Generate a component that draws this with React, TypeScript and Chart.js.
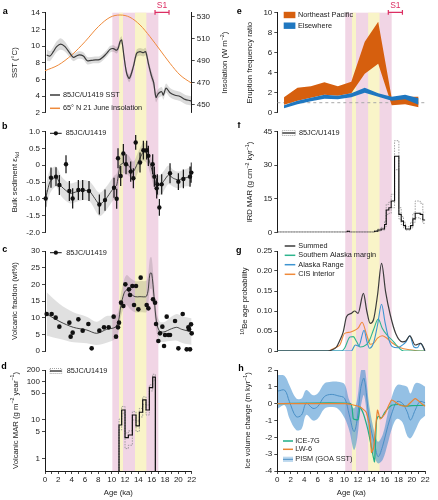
import React, { useEffect, useRef } from 'react';
import { Chart, registerables } from 'chart.js';

Chart.register(...registerables);

const FONT = '"Liberation Sans", Arial, Helvetica, sans-serif';
Chart.defaults.font.family = FONT;
Chart.defaults.font.size = 8;
Chart.defaults.color = '#222';

const PINK = '#f1d5e5';
const YELLOW = '#f9f4c8';
const S1_COLOR = '#dc2f63';
const AXIS = '#1a1a1a';

// ---------------- shared ----------------
const pinkBand = [10.1, 17.0];
const yellowBands = [[11.1, 11.7], [13.5, 15.2]];
const s1Range = [16.5, 18.6];
const ageTicks = [0, 1, 2, 3, 4, 5, 6, 7, 8, 9, 10, 11, 12, 13, 14, 15, 16, 17, 18, 19, 20, 21, 22];

// ---------------- a ----------------
const insolationAge = [0, 2, 4, 6, 8, 9.75, 11.25, 12.75, 14.25, 15.75, 17.25, 18.75, 20.25, 22];
const insolationVal = [480.7, 485.9, 495, 507.2, 520.9, 529.4, 531.5, 529.4, 522.4, 511.7, 499.6, 487.4, 476.8, 469.2];
const sstAge = [0.25, 0.75, 1.25, 1.75, 2.35, 3.0, 3.75, 4.25, 5.0, 5.75, 6.35, 7.25, 8.25, 9.25, 9.75, 10.25, 10.75, 11.0, 11.25, 11.5, 11.85, 12.25, 12.65, 13.25, 13.75, 14.25, 14.75, 15.1, 15.5, 16.0, 16.3, 16.65, 17.0, 17.5, 17.75, 18.15, 18.75, 19.5, 20.25, 21.0, 21.75, 22.0];
const sstVal = [8.92, 8.8, 9.32, 9.92, 10.24, 9.92, 9.12, 8.64, 8.92, 8.8, 8.24, 8.32, 8.4, 9.12, 9.6, 9.7, 9.5, 9.8, 10.52, 10.72, 8.72, 6.72, 6.12, 7.52, 9.12, 9.32, 9.2, 9.32, 7.92, 6.32, 5.6, 3.84, 4.3, 4.52, 4.12, 4.95, 4.4, 4.1, 3.95, 3.6, 3.45, 3.4];
const sstErr = [0.7, 0.6, 0.6, 0.65, 0.7, 0.6, 0.5, 0.45, 0.45, 0.45, 0.45, 0.4, 0.4, 0.4, 0.4, 0.4, 0.4, 0.4, 0.45, 0.45, 0.45, 0.45, 0.45, 0.45, 0.45, 0.45, 0.45, 0.45, 0.5, 0.55, 0.6, 0.6, 0.55, 0.55, 0.55, 0.55, 0.55, 0.55, 0.55, 0.55, 0.55, 0.55];
const aTicksLeft = [2, 4, 6, 8, 10, 12, 14];
const aTicksRight = [450, 470, 490, 510, 530];

// ---------------- b ----------------
const bAge = [0.1, 0.9, 1.65, 2.15, 3.15, 3.65, 4.15, 5.0, 5.65, 6.6, 8.15, 9.0, 10.35, 10.75, 10.95, 11.35, 11.75, 12.15, 12.85, 13.25, 13.6, 14.25, 14.75, 15.25, 15.5, 16.15, 16.4, 16.75, 16.85, 17.15, 17.5, 18.75, 20.0, 20.75, 21.75, 21.95];
const bVal = [-0.99, -0.37, -0.34, -0.59, 0.03, -0.77, -0.99, -0.74, -0.74, -0.77, -1.17, -1.04, -0.67, -1.0, 0.21, -0.32, 0.35, 0.03, -0.19, -0.39, 0.68, 0.08, 0.45, 0.45, 0.28, 0.03, -0.34, -0.69, -0.57, -1.26, -0.57, -0.24, -0.49, -0.41, -0.34, -0.22];
const bErr = [0.25, 0.3, 0.28, 0.3, 0.27, 0.3, 0.3, 0.3, 0.3, 0.3, 0.3, 0.32, 0.3, 0.3, 0.3, 0.3, 0.28, 0.3, 0.3, 0.3, 0.22, 0.3, 0.28, 0.28, 0.3, 0.3, 0.3, 0.3, 0.3, 0.25, 0.3, 0.3, 0.25, 0.28, 0.3, 0.3];
const bLineAge = [0.1, 0.75, 1.65, 2.5, 3.75, 4.75, 5.75, 6.75, 8.15, 9.0, 10.25, 10.75, 11.25, 11.75, 12.5, 13.25, 14.0, 14.75, 15.25, 15.75, 16.25, 16.75, 17.25, 17.75, 18.5, 19.25, 20.0, 20.75, 21.75, 22];
const bLineVal = [-0.99, -0.49, -0.34, -0.64, -0.84, -0.79, -0.74, -0.79, -1.17, -1.04, -0.69, -0.6, 0.0, 0.06, 0.0, -0.19, 0.11, 0.4, 0.35, 0.06, -0.29, -0.59, -0.59, -0.49, -0.29, -0.39, -0.44, -0.39, -0.34, -0.29];
const bLineErr = [0.35, 0.35, 0.3, 0.3, 0.3, 0.3, 0.3, 0.3, 0.35, 0.35, 0.35, 0.35, 0.32, 0.3, 0.3, 0.3, 0.3, 0.28, 0.28, 0.3, 0.3, 0.3, 0.3, 0.3, 0.28, 0.25, 0.25, 0.25, 0.28, 0.3];
const bTicks = [-2, -1.5, -1, -0.5, 0, 0.5, 1];

// ---------------- c ----------------
const cAge = [0.25, 1.0, 1.6, 2.15, 3.65, 3.85, 4.15, 5.0, 5.65, 6.5, 7.0, 8.15, 8.85, 9.55, 10.3, 10.65, 10.95, 11.1, 11.4, 11.75, 12.05, 12.6, 12.75, 13.1, 13.35, 13.65, 14.0, 14.35, 15.25, 15.5, 15.85, 16.2, 16.5, 16.65, 17.0, 17.25, 17.6, 17.85, 18.0, 18.25, 18.5, 18.75, 19.5, 20.0, 20.65, 21.25, 21.5, 21.6, 21.75, 21.9, 22.0];
const cVal = [11.1, 11.1, 10.0, 7.3, 8.5, 4.3, 5.5, 9.5, 6.1, 8.1, 0.8, 6.1, 7.1, 7.1, 10.3, 4.3, 7.1, 8.5, 14.5, 13.5, 20.0, 18.5, 16.8, 19.5, 13.8, 19.5, 12.5, 22.0, 13.8, 12.8, 32.1, 15.5, 14.5, 8.1, 3.0, 5.3, 7.3, 1.5, 4.8, 10.3, 4.8, 4.8, 9.0, 0.8, 11.1, 0.5, 7.1, 6.5, 0.5, 8.0, 5.3];
const cLineAge = [0.25, 2.25, 4.25, 6.25, 7.75, 9.25, 10.5, 11.0, 11.35, 11.85, 12.25, 12.75, 13.5, 14.25, 15.25, 15.75, 16.0, 16.35, 16.75, 17.25, 18.0, 18.75, 19.75, 20.5, 21.5, 22];
const cLineVal = [11.1, 8.8, 7.1, 6.3, 5.3, 6.5, 7.1, 8.8, 13.3, 17.3, 18.3, 17.3, 16.3, 16.3, 16.5, 23.3, 23.3, 16.3, 8.3, 5.8, 5.8, 6.5, 7.1, 6.5, 6.0, 5.8];
const cLineErr = [6.5, 5.2, 4.5, 4, 3.5, 4, 3.5, 3, 3.5, 4, 4.5, 4.7, 4.7, 4.7, 4.7, 4.7, 4.7, 4, 3, 3, 3, 3.5, 4, 4, 4, 4];
const cTicks = [0, 5, 10, 15, 20, 25, 30];

// ---------------- d ----------------
const dAge = [11.0, 11.1, 11.5, 12.0, 12.5, 13.1, 13.65, 14.15, 14.65, 15.15, 15.65, 16.15, 16.55];
const dVal = [0.3, 7.4, 18.2, 3.46, 4.06, 13.5, 7.0, 15.9, 33.2, 18.2, 69.7, 130, 0.3];
const dHi = [0.3, 10.5, 22.5, 4.6, 5.2, 16.5, 9.4, 20, 40, 24.5, 82, 155, 0.3];
const dLo = [0.3, 5.5, 15, 1.8, 2.2, 10, 5, 12, 25, 13.5, 57, 110, 0.3];
const dTicks = [1, 5, 10, 50, 100, 200];

// ---------------- e ----------------
const eAge = [1, 3, 5, 7, 9, 11, 13, 15, 17, 19, 21];
const nePacTop = [1.55, 2.5, 2.65, 3.05, 2.65, 3.1, 7.1, 9.1, 1.5, 1.6, 1.6];
const nePacBot = [0.8, 1.2, 1.5, 1.8, 1.7, 1.95, 3.9, 4.9, 0.75, 0.85, 0.55];
const elseTop = [0.75, 1.2, 1.5, 1.8, 1.7, 1.95, 2.5, 1.95, 1.6, 1.8, 1.45];
const elseBot = [0.45, 0.85, 1.15, 1.4, 1.35, 1.55, 2.0, 1.6, 1.2, 1.35, 0.8];
const eRefRatio = 1;
const eTicks = [0, 2, 4, 6, 8, 10];

// ---------------- f ----------------
const fAge = [0, 10.4, 10.7, 14.46, 14.95, 15.45, 15.94, 16.19, 16.58, 16.93, 17.43, 18.07, 18.42, 18.76, 19.06, 19.8, 20.15, 20.5, 21.24, 21.63, 22];
const fVal = [0, 0.5, 0, 0.5, 1, 1.5, 3.5, 10, 11, 14, 34, 8, 5, 3, 1.5, 3, 6, 8.5, 8, 5.5, 5.5];
const fHi = [0, 0.5, 0, 0.8, 1.5, 2.2, 5, 12.5, 13.5, 17, 41, 11, 7, 4.5, 2.5, 4.5, 8.5, 14, 13, 9, 9];
const fLo = [0, 0.5, 0, 0.3, 0.6, 1, 2.5, 8, 8.5, 11, 28, 6, 3.5, 2, 1, 2, 4.5, 6.5, 6, 4, 4];
const fTicks = [0, 15, 30, 45];

// ---------------- g ----------------
const sumAge = [0, 7.5, 8.0, 8.8, 9.25, 9.8, 10.3, 11.0, 11.5, 12.0, 12.8, 13.3, 13.8, 14.3, 14.9, 15.5, 16.1, 16.8, 17.6, 18.6, 19.1, 19.7, 20.5, 21.3, 22];
const sumVal = [0, 0, 0.002, 0.01, 0.025, 0.048, 0.086, 0.094, 0.1, 0.094, 0.144, 0.1, 0.069, 0.078, 0.14, 0.219, 0.148, 0.09, 0.044, 0.023, 0.025, 0.038, 0.015, 0.019, 0];
const samAge = [0, 9.5, 10.0, 10.8, 11.3, 11.8, 12.3, 12.8, 13.6, 14.3, 15.0, 15.6, 16.3, 17.3, 18.1, 18.8, 22];
const samVal = [0, 0, 0.007, 0.035, 0.036, 0.023, 0.01, 0.011, 0.023, 0.053, 0.08, 0.057, 0.04, 0.023, 0.007, 0, 0];
const arAge = [0, 11.0, 11.6, 12.1, 12.9, 13.3, 13.7, 14.3, 14.9, 15.5, 16.0, 16.6, 17.1, 17.9, 18.6, 19.1, 19.7, 20.3, 20.8, 21.3, 21.9, 22];
const arVal = [0, 0, 0.015, 0.012, 0.052, 0.025, 0.007, 0.02, 0.065, 0.117, 0.073, 0.028, 0.011, 0.008, 0.015, 0.022, 0.038, 0.01, 0.008, 0.019, 0.002, 0];
const cisAge = [0, 7.5, 8.0, 8.8, 9.3, 10.0, 10.8, 11.3, 12.0, 12.6, 13.3, 13.8, 14.3, 14.9, 15.6, 16.3, 17.1, 18.3, 19.8, 21.3, 22];
const cisVal = [0, 0, 0.003, 0.01, 0.015, 0.044, 0.047, 0.05, 0.057, 0.072, 0.04, 0.017, 0.019, 0.032, 0.038, 0.032, 0.02, 0.008, 0.003, 0, 0];
const gTicks = [0, 0.05, 0.1, 0.15, 0.2, 0.25];

// ---------------- h ----------------
const pismAge = [0.1, 1.1, 1.8, 2.8, 3.6, 4.3, 5.3, 6.0, 7.0, 8.0, 9.0, 10.0, 10.7, 11.4, 11.9, 12.4, 12.9, 13.7, 14.5, 15.0, 15.7, 16.4, 17.1, 17.8, 18.6, 19.3, 19.8, 20.5, 21.2, 22];
const pismMean = [0.75, 0.8, 0.12, -0.77, -0.67, 0.02, -0.28, -0.18, 0.42, 0.55, 0.47, 0.32, -0.67, -1.66, -0.87, 0.91, 1.5, -1.07, -2.46, -3.15, -2.46, -1.37, -0.48, 0.12, 0.02, -0.48, -0.97, -0.38, 0.12, 0.05];
const pismHi = [1.7, 1.65, 1.1, 0.32, 0.3, 0.81, 0.5, 0.6, 1.2, 1.3, 1.3, 1.15, 0.2, -0.28, 0.3, 1.9, 2.3, -0.2, -1.8, -2.26, -1.8, -0.6, 0.5, 1.1, 1.1, 1.0, 0.6, 1.2, 1.2, 1.0];
const pismLo = [-0.28, -0.1, -0.87, -1.56, -1.5, -0.67, -1.0, -0.9, -0.3, -0.2, -0.3, -0.85, -1.6, -2.75, -2.0, -0.2, 0.5, -2.0, -3.2, -3.55, -3.3, -2.4, -1.4, -0.9, -1.1, -1.9, -2.06, -1.6, -1.0, -0.7];
const iceAge = [0, 10.9, 11.3, 12.0, 12.3, 12.8, 13.5, 14.0, 14.45, 14.75, 15.0, 15.5, 16.0, 17.0, 18.0, 19.0, 20.0, 22];
const iceVal = [0, 0, -0.9, -0.95, -0.2, -0.6, -1.6, -2.6, -3.45, -1.0, -0.75, -0.85, -0.5, -0.1, -0.05, -0.15, -0.12, -0.1];
const lwAge = [0, 10.0, 11.0, 12.3, 13.2, 13.7, 14.0, 14.3, 14.6, 14.9, 15.3, 16.0, 17.0, 18.2, 19.2, 20.5, 21.7, 22];
const lwVal = [0, 0, -0.05, -0.2, -0.5, -1.3, -2.9, -2.65, -1.5, -0.38, -0.91, -0.6, 0.22, -0.08, -0.15, 0.3, -0.08, -0.15];
const hTicks = [-4, -3, -2, -1, 0, 1, 2];

// ---------------- colours ----------------
const C_SST = '#3a3a3a';
const C_INS = '#ee8a3b';
const C_NEP = '#d65f0e';
const C_ELSE = '#1f77c0';
const C_SUM = '#3b3b3b';
const C_SAM = '#2eb58e';
const C_AR = '#3d94d1';
const C_CIS = '#ef8a3a';
const C_ICE = '#1fae86';
const C_LW = '#ea8434';
const C_PISM = '#4a8fc5';
const C_PISM_BAND = 'rgba(60,140,205,0.55)';

// ---------------- helpers ----------------
type Slot = { left: number; top: number; width: number; height: number };
type Plot = { left: number; right: number; top: number; bottom: number };
type Seg = { t: string; sup?: boolean; sub?: boolean };
type LegendItem = { kind: 'line' | 'marker' | 'box' | 'dashbox' | 'band'; color: string; fill?: string; label: string; x: number; y: number; w: number; gap?: number };
type PanelCfg = {
  slot: Slot;
  plot: Plot;
  letter: { t: string; x: number; y: number };
  titles: { x: number; segs: Seg[] }[];
  legend: LegendItem[];
  bandTop: 'area' | 'canvas';
  bandBottom: 'area' | 'canvas';
  s1?: boolean;
};

const mkPts = (xs: number[], ys: number[]) => xs.map((x, i) => ({ x, y: ys[i] }));
const mkShift = (xs: number[], ys: number[], es: number[], s: number) => xs.map((x, i) => ({ x, y: ys[i] + s * es[i] }));

function drawVTitle(ctx: CanvasRenderingContext2D, cx: number, cy: number, segs: Seg[], size: number) {
  ctx.save();
  ctx.translate(cx, cy);
  ctx.rotate(-Math.PI / 2);
  ctx.fillStyle = '#222';
  ctx.textBaseline = 'middle';
  ctx.textAlign = 'left';
  const fontFor = (s: Seg) => `${s.sup || s.sub ? size * 0.68 : size}px ${FONT}`;
  let total = 0;
  const widths = segs.map((s) => {
    ctx.font = fontFor(s);
    const w = ctx.measureText(s.t).width;
    total += w;
    return w;
  });
  let x = -total / 2;
  segs.forEach((s, i) => {
    ctx.font = fontFor(s);
    const dy = s.sup ? -size * 0.33 : s.sub ? size * 0.3 : 0;
    ctx.fillText(s.t, x, dy);
    x += widths[i];
  });
  ctx.restore();
}

function drawLegendItem(ctx: CanvasRenderingContext2D, it: LegendItem, ox: number, oy: number) {
  const x = it.x - ox;
  const y = it.y - oy;
  const w = it.w;
  ctx.save();
  const hline = (color: string, lw: number) => {
    ctx.strokeStyle = color;
    ctx.lineWidth = lw;
    ctx.beginPath();
    ctx.moveTo(x, y);
    ctx.lineTo(x + w, y);
    ctx.stroke();
  };
  if (it.kind === 'line') {
    hline(it.color, 1.5);
  } else if (it.kind === 'marker') {
    hline(it.color, 1);
    ctx.fillStyle = it.color;
    ctx.beginPath();
    ctx.arc(x + w / 2, y, 2.1, 0, Math.PI * 2);
    ctx.fill();
  } else if (it.kind === 'box') {
    ctx.fillStyle = it.color;
    ctx.fillRect(x, y - 3.2, w, 6.4);
  } else if (it.kind === 'dashbox') {
    ctx.strokeStyle = '#8a8a8a';
    ctx.lineWidth = 0.8;
    ctx.setLineDash([1, 1]);
    ctx.strokeRect(x, y - 2.5, w, 5);
    ctx.setLineDash([]);
    hline(it.color, 1.2);
  } else if (it.kind === 'band') {
    ctx.fillStyle = it.fill || it.color;
    ctx.fillRect(x, y - 2.6, w, 5.2);
    hline(it.color, 1);
  }
  ctx.fillStyle = '#222';
  ctx.font = `7.3px ${FONT}`;
  ctx.textAlign = 'left';
  ctx.textBaseline = 'middle';
  ctx.fillText(it.label, x + w + (it.gap ?? 3), y);
  ctx.restore();
}

function panelPlugin(cfg: PanelCfg) {
  return {
    id: 'panel_' + cfg.letter.t,
    beforeDraw(chart: any) {
      const ctx: CanvasRenderingContext2D = chart.ctx;
      const xs = chart.scales.x;
      const ca = chart.chartArea;
      const top = cfg.bandTop === 'area' ? ca.top : 0;
      const bottom = cfg.bandBottom === 'area' ? ca.bottom : chart.height;
      const px = (v: number) => xs.getPixelForValue(v);
      ctx.save();
      ctx.fillStyle = PINK;
      ctx.fillRect(px(pinkBand[0]), top, px(pinkBand[1]) - px(pinkBand[0]), bottom - top);
      ctx.fillStyle = YELLOW;
      yellowBands.forEach(([a, b]) => ctx.fillRect(px(a), top, px(b) - px(a), bottom - top));
      ctx.restore();
    },
    afterDraw(chart: any) {
      const ctx: CanvasRenderingContext2D = chart.ctx;
      const ox = cfg.slot.left;
      const oy = cfg.slot.top;
      const ca = chart.chartArea;
      ctx.save();
      ctx.fillStyle = '#000';
      ctx.font = `bold 9px ${FONT}`;
      ctx.textAlign = 'center';
      ctx.textBaseline = 'middle';
      ctx.fillText(cfg.letter.t, cfg.letter.x - ox, cfg.letter.y - oy);
      cfg.titles.forEach((tt) => drawVTitle(ctx, tt.x - ox, (ca.top + ca.bottom) / 2, tt.segs, 7.7));
      cfg.legend.forEach((it) => drawLegendItem(ctx, it, ox, oy));
      if (cfg.s1) {
        const xs = chart.scales.x;
        const x1 = xs.getPixelForValue(s1Range[0]);
        const x2 = xs.getPixelForValue(s1Range[1]);
        const yb = 12.4 - oy;
        ctx.strokeStyle = S1_COLOR;
        ctx.lineWidth = 1.2;
        ctx.beginPath();
        ctx.moveTo(x1, yb);
        ctx.lineTo(x2, yb);
        ctx.moveTo(x1, yb - 2.3);
        ctx.lineTo(x1, yb + 2.3);
        ctx.moveTo(x2, yb - 2.3);
        ctx.lineTo(x2, yb + 2.3);
        ctx.stroke();
        ctx.fillStyle = S1_COLOR;
        ctx.font = `8.5px ${FONT}`;
        ctx.textAlign = 'center';
        ctx.textBaseline = 'middle';
        ctx.fillText('S1', (x1 + x2) / 2, 5.6 - oy);
      }
      ctx.restore();
    },
  };
}

function common(cfg: PanelCfg, hasRight: boolean, hasX: boolean) {
  const { slot, plot } = cfg;
  return {
    responsive: false,
    animation: false,
    devicePixelRatio: 1,
    events: [],
    layout: {
      padding: {
        left: 0,
        top: plot.top - slot.top,
        right: hasRight ? 0 : slot.left + slot.width - plot.right,
        bottom: hasX ? 0 : slot.top + slot.height - plot.bottom,
      },
    },
    plugins: { legend: { display: false }, tooltip: { enabled: false } },
  };
}

function yAxisCfg(cfg: PanelCfg, min: number, max: number, tickVals: number[], fmt: (v: number) => string, extra: any = {}) {
  const { slot, plot } = cfg;
  return {
    type: 'linear',
    position: 'left',
    min,
    max,
    afterFit: (s: any) => {
      s.width = plot.left - slot.left;
    },
    afterBuildTicks: (s: any) => {
      s.ticks = tickVals.map((v) => ({ value: v }));
    },
    grid: { display: true, drawOnChartArea: false, drawTicks: true, tickLength: 3, color: AXIS, tickColor: AXIS, lineWidth: 0.8 },
    border: { display: true, color: AXIS, width: 1 },
    ticks: { padding: 2, autoSkip: false, callback: (v: any) => fmt(Number(v)), font: { size: 8 }, color: '#222' },
    ...extra,
  };
}

const hiddenX = () => ({ type: 'linear', min: 0, max: 22, display: false });

function shownX(cfg: PanelCfg) {
  const { slot, plot } = cfg;
  return {
    type: 'linear',
    min: 0,
    max: 22,
    position: 'bottom',
    afterFit: (s: any) => {
      s.height = slot.top + slot.height - plot.bottom;
    },
    afterBuildTicks: (s: any) => {
      s.ticks = ageTicks.map((v) => ({ value: v }));
    },
    grid: { display: true, drawOnChartArea: false, drawTicks: true, tickLength: 3, color: AXIS, tickColor: AXIS, lineWidth: 0.8 },
    border: { display: true, color: AXIS, width: 1 },
    ticks: { autoSkip: false, maxRotation: 0, padding: 0.5, callback: (v: any) => (Number(v) % 2 === 0 ? String(v) : ''), font: { size: 8 }, color: '#222' },
    title: { display: true, text: 'Age (ka)', font: { size: 7.7 }, color: '#222', padding: { top: 0, bottom: 2.7 } },
  };
}

function line(data: any[], color: string, width: number, order: number, extra: any = {}) {
  return { data, borderColor: color, borderWidth: width, pointRadius: 0, pointHoverRadius: 0, fill: false, tension: 0.3, order, ...extra };
}

function band(upper: any[], lower: any[], color: string, order: number, extra: any = {}) {
  return [
    { data: upper, borderWidth: 0, borderColor: 'rgba(0,0,0,0)', pointRadius: 0, fill: '+1', backgroundColor: color, tension: 0.3, order, ...extra },
    { data: lower, borderWidth: 0, borderColor: 'rgba(0,0,0,0)', pointRadius: 0, fill: false, tension: 0.3, order: order + 0.5, ...extra },
  ];
}

const fmtInt = (v: number) => String(v);
const fmt1 = (v: number) => (v === 0 ? '0' : v.toFixed(1));
const fmt2 = (v: number) => (v === 0 ? '0' : v.toFixed(2));

// ---------------- panel configs ----------------
const L_PLOT = { left: 45, right: 191.7 };
const R_PLOT = { left: 277.3, right: 425.3 };

const cfgA: PanelCfg = {
  slot: { left: 0, top: 0, width: 235, height: 122 },
  plot: { ...L_PLOT, top: 12.7, bottom: 112.7 },
  letter: { t: 'a', x: 5.3, y: 11.3 },
  titles: [
    { x: 15, segs: [{ t: 'SST (°C)' }] },
    { x: 224.7, segs: [{ t: 'Insolation (W m' }, { t: '−2', sup: true }, { t: ')' }] },
  ],
  legend: [
    { kind: 'line', color: C_SST, label: '85JC/U1419 SST', x: 50, y: 95, w: 10 },
    { kind: 'line', color: C_INS, label: '65° N 21 June insolation', x: 50, y: 108.3, w: 10 },
  ],
  bandTop: 'area',
  bandBottom: 'canvas',
  s1: true,
};
const cfgB: PanelCfg = {
  slot: { left: 0, top: 122, width: 218, height: 119 },
  plot: { ...L_PLOT, top: 131.7, bottom: 232.3 },
  letter: { t: 'b', x: 4.7, y: 127 },
  titles: [{ x: 15, segs: [{ t: 'Bulk sediment ε' }, { t: 'Nd', sub: true }] }],
  legend: [{ kind: 'marker', color: '#111', label: '85JC/U1419', x: 50, y: 133.3, w: 11.7, gap: 4 }],
  bandTop: 'canvas',
  bandBottom: 'canvas',
};
const cfgC: PanelCfg = {
  slot: { left: 0, top: 241, width: 218, height: 120 },
  plot: { ...L_PLOT, top: 251, bottom: 351 },
  letter: { t: 'c', x: 4.7, y: 249.3 },
  titles: [{ x: 14.5, segs: [{ t: 'Volcanic fraction (wt%)' }] }],
  legend: [{ kind: 'marker', color: '#111', label: '85JC/U1419', x: 50, y: 252.7, w: 11.7, gap: 4.5 }],
  bandTop: 'canvas',
  bandBottom: 'canvas',
};
const cfgD: PanelCfg = {
  slot: { left: 0, top: 361, width: 218, height: 139 },
  plot: { ...L_PLOT, top: 370, bottom: 471 },
  letter: { t: 'd', x: 4, y: 367 },
  titles: [{ x: 15.5, segs: [{ t: 'Volcanic MAR (g m' }, { t: '−2', sup: true }, { t: ' year' }, { t: '−1', sup: true }, { t: ')' }] }],
  legend: [{ kind: 'dashbox', color: '#111', label: '85JC/U1419', x: 50, y: 371, w: 11.7, gap: 5 }],
  bandTop: 'canvas',
  bandBottom: 'area',
};
const cfgE: PanelCfg = {
  slot: { left: 218, top: 0, width: 220, height: 122 },
  plot: { ...R_PLOT, top: 12.7, bottom: 112.7 },
  letter: { t: 'e', x: 239.2, y: 11.3 },
  titles: [{ x: 249.7, segs: [{ t: 'Eruption frequency ratio' }] }],
  legend: [
    { kind: 'box', color: C_NEP, label: 'Northeast Pacific', x: 283.7, y: 15, w: 11.7, gap: 2.5 },
    { kind: 'box', color: C_ELSE, label: 'Elsewhere', x: 283.7, y: 25.7, w: 11.7, gap: 2.5 },
  ],
  bandTop: 'area',
  bandBottom: 'canvas',
  s1: true,
};
const cfgF: PanelCfg = {
  slot: { left: 218, top: 122, width: 220, height: 119 },
  plot: { ...R_PLOT, top: 131.7, bottom: 232.3 },
  letter: { t: 'f', x: 239, y: 126 },
  titles: [{ x: 250, segs: [{ t: 'IRD MAR (g cm' }, { t: '−2', sup: true }, { t: ' kyr' }, { t: '−1', sup: true }, { t: ')' }] }],
  legend: [{ kind: 'dashbox', color: '#111', label: '85JC/U1419', x: 282.3, y: 133, w: 13, gap: 3.7 }],
  bandTop: 'canvas',
  bandBottom: 'canvas',
};
const cfgG: PanelCfg = {
  slot: { left: 218, top: 241, width: 220, height: 120 },
  plot: { ...R_PLOT, top: 251, bottom: 351 },
  letter: { t: 'g', x: 238.7, y: 250.8 },
  titles: [{ x: 245, segs: [{ t: '10', sup: true }, { t: 'Be age probability' }] }],
  legend: [
    { kind: 'line', color: C_SUM, label: 'Summed', x: 284.7, y: 246, w: 10.6 },
    { kind: 'line', color: C_SAM, label: 'Southern Alaska margin', x: 284.7, y: 255.3, w: 10.6 },
    { kind: 'line', color: C_AR, label: 'Alaska Range', x: 284.7, y: 264.7, w: 10.6 },
    { kind: 'line', color: C_CIS, label: 'CIS interior', x: 284.7, y: 274.3, w: 10.6 },
  ],
  bandTop: 'canvas',
  bandBottom: 'canvas',
};
const cfgH: PanelCfg = {
  slot: { left: 218, top: 361, width: 220, height: 139 },
  plot: { ...R_PLOT, top: 370, bottom: 471 },
  letter: { t: 'h', x: 241, y: 368.3 },
  titles: [{ x: 248, segs: [{ t: 'Ice volume change (m kyr' }, { t: '−1', sup: true }, { t: ')' }] }],
  legend: [
    { kind: 'line', color: C_ICE, label: 'ICE-7G', x: 283, y: 441, w: 10, gap: 2.3 },
    { kind: 'line', color: C_LW, label: 'LW-6', x: 283, y: 449.3, w: 10, gap: 2.3 },
    { kind: 'band', color: C_PISM, fill: 'rgba(60,140,205,0.35)', label: 'PISM (GOA SST)', x: 283, y: 459.3, w: 10, gap: 2.3 },
  ],
  bandTop: 'canvas',
  bandBottom: 'area',
};

// ---------------- builders ----------------
function buildA(cfg: PanelCfg) {
  const { slot, plot } = cfg;
  return {
    type: 'line',
    data: {
      datasets: [
        line(mkPts(sstAge, sstVal), C_SST, 1.2, 0, { yAxisID: 'y' }),
        line(mkPts(insolationAge, insolationVal), C_INS, 1, 1, { yAxisID: 'y2', cubicInterpolationMode: 'monotone' }),
        ...band(mkShift(sstAge, sstVal, sstErr, 1), mkShift(sstAge, sstVal, sstErr, -1), 'rgba(0,0,0,0.14)', 2, { yAxisID: 'y' }),
      ],
    },
    options: {
      ...common(cfg, true, false),
      scales: {
        x: hiddenX(),
        y: yAxisCfg(cfg, 2, 14, aTicksLeft, fmtInt),
        y2: yAxisCfg(cfg, 442.4, 533.6, aTicksRight, fmtInt, {
          position: 'right',
          afterFit: (s: any) => {
            s.width = slot.left + slot.width - plot.right;
          },
        }),
      },
    },
    plugins: [panelPlugin(cfg)],
  };
}

function buildB(cfg: PanelCfg) {
  const errData: any[] = [];
  bAge.forEach((x, i) => {
    errData.push({ x, y: bVal[i] - bErr[i] }, { x, y: bVal[i] + bErr[i] }, { x, y: null });
  });
  return {
    type: 'line',
    data: {
      datasets: [
        { data: mkPts(bAge, bVal), showLine: false, pointRadius: 2.2, pointBackgroundColor: '#111', pointBorderWidth: 0, order: 0, clip: false },
        { data: errData, borderColor: '#111', borderWidth: 1.2, pointRadius: 0, spanGaps: false, tension: 0, fill: false, order: 1 },
        line(mkPts(bLineAge, bLineVal), '#333', 0.9, 2, { tension: 0.15 }),
        ...band(mkShift(bLineAge, bLineVal, bLineErr, 1), mkShift(bLineAge, bLineVal, bLineErr, -1), 'rgba(0,0,0,0.12)', 3),
      ],
    },
    options: {
      ...common(cfg, false, false),
      scales: { x: hiddenX(), y: yAxisCfg(cfg, -2, 1, bTicks, fmt1) },
    },
    plugins: [panelPlugin(cfg)],
  };
}

function buildC(cfg: PanelCfg) {
  return {
    type: 'line',
    data: {
      datasets: [
        { data: mkPts(cAge, cVal), showLine: false, pointRadius: 2.3, pointBackgroundColor: '#111', pointBorderWidth: 0, order: 0, clip: false },
        line(mkPts(cLineAge, cLineVal), '#333', 0.9, 1, { tension: 0.3 }),
        ...band(mkShift(cLineAge, cLineVal, cLineErr, 1), mkShift(cLineAge, cLineVal, cLineErr, -1), 'rgba(0,0,0,0.12)', 2),
      ],
    },
    options: {
      ...common(cfg, false, false),
      scales: { x: hiddenX(), y: yAxisCfg(cfg, 0, 30, cTicks, fmtInt) },
    },
    plugins: [panelPlugin(cfg)],
  };
}

function buildD(cfg: PanelCfg) {
  const dash = { stepped: 'before', tension: 0, borderDash: [1.5, 1.2] };
  return {
    type: 'line',
    data: {
      datasets: [
        line(mkPts(dAge, dVal), '#111', 1.2, 0, { stepped: 'before', tension: 0 }),
        line(mkPts(dAge, dHi), '#8a8a8a', 0.8, 1, dash),
        line(mkPts(dAge, dLo), '#8a8a8a', 0.8, 2, dash),
      ],
    },
    options: {
      ...common(cfg, false, true),
      scales: {
        x: shownX(cfg),
        y: yAxisCfg(cfg, 0.47, 200, dTicks, fmtInt, { type: 'logarithmic' }),
      },
    },
    plugins: [panelPlugin(cfg)],
  };
}

function buildE(cfg: PanelCfg) {
  const flat = { tension: 0 };
  return {
    type: 'line',
    data: {
      datasets: [
        ...band(mkPts(eAge, elseTop), mkPts(eAge, elseBot), C_ELSE, 0, flat),
        ...band(mkPts(eAge, nePacTop), mkPts(eAge, nePacBot), C_NEP, 2, flat),
        line([{ x: 0, y: eRefRatio }, { x: 22, y: eRefRatio }], '#a8a8a8', 1, 5, { borderDash: [3, 3], tension: 0 }),
      ],
    },
    options: {
      ...common(cfg, false, false),
      scales: { x: hiddenX(), y: yAxisCfg(cfg, 0, 10, eTicks, fmtInt) },
    },
    plugins: [panelPlugin(cfg)],
  };
}

function buildF(cfg: PanelCfg) {
  const dash = { stepped: 'before', tension: 0, borderDash: [1.5, 1.2] };
  return {
    type: 'line',
    data: {
      datasets: [
        line(mkPts(fAge, fVal), '#111', 1.1, 0, { stepped: 'before', tension: 0 }),
        line(mkPts(fAge, fHi), '#8a8a8a', 0.8, 1, dash),
        line(mkPts(fAge, fLo), '#8a8a8a', 0.8, 2, dash),
      ],
    },
    options: {
      ...common(cfg, false, false),
      scales: { x: hiddenX(), y: yAxisCfg(cfg, 0, 45, fTicks, fmtInt) },
    },
    plugins: [panelPlugin(cfg)],
  };
}

function buildG(cfg: PanelCfg) {
  const mono = { cubicInterpolationMode: 'monotone' };
  return {
    type: 'line',
    data: {
      datasets: [
        line(mkPts(sumAge, sumVal), C_SUM, 1.2, 0, mono),
        line(mkPts(arAge, arVal), C_AR, 1.1, 1, mono),
        line(mkPts(samAge, samVal), C_SAM, 1.1, 2, mono),
        line(mkPts(cisAge, cisVal), C_CIS, 1.1, 3, mono),
      ],
    },
    options: {
      ...common(cfg, false, false),
      scales: { x: hiddenX(), y: yAxisCfg(cfg, 0, 0.25, gTicks, fmt2) },
    },
    plugins: [panelPlugin(cfg)],
  };
}

function buildH(cfg: PanelCfg) {
  return {
    type: 'line',
    data: {
      datasets: [
        line(mkPts(lwAge, lwVal), C_LW, 1.2, 0, { tension: 0.15 }),
        line(mkPts(iceAge, iceVal), C_ICE, 1.2, 1, { tension: 0.15 }),
        line(mkPts(pismAge, pismMean), C_PISM, 1, 2, { tension: 0.35 }),
        ...band(mkPts(pismAge, pismHi), mkPts(pismAge, pismLo), C_PISM_BAND, 3, { tension: 0.35 }),
      ],
    },
    options: {
      ...common(cfg, false, true),
      scales: { x: shownX(cfg), y: yAxisCfg(cfg, -4, 2, hTicks, fmtInt) },
    },
    plugins: [panelPlugin(cfg)],
  };
}

const PANELS: { cfg: PanelCfg; build: (c: PanelCfg) => any }[] = [
  { cfg: cfgA, build: buildA },
  { cfg: cfgB, build: buildB },
  { cfg: cfgC, build: buildC },
  { cfg: cfgD, build: buildD },
  { cfg: cfgE, build: buildE },
  { cfg: cfgF, build: buildF },
  { cfg: cfgG, build: buildG },
  { cfg: cfgH, build: buildH },
];

function ChartPanel({ cfg, build }: { cfg: PanelCfg; build: (c: PanelCfg) => any }) {
  const ref = useRef<HTMLCanvasElement>(null);
  useEffect(() => {
    if (!ref.current) return;
    const chart = new Chart(ref.current, build(cfg));
    return () => chart.destroy();
  }, []);
  const s = cfg.slot;
  return (
    <canvas
      ref={ref}
      width={s.width}
      height={s.height}
      style={{ position: 'absolute', left: s.left, top: s.top, width: s.width, height: s.height }}
    />
  );
}

export default function App() {
  return (
    <div style={{ position: 'fixed', left: 0, top: 0, width: 438, height: 500, background: '#fff', overflow: 'hidden' }}>
      {PANELS.map((p) => (
        <ChartPanel key={p.cfg.letter.t} cfg={p.cfg} build={p.build} />
      ))}
    </div>
  );
}
